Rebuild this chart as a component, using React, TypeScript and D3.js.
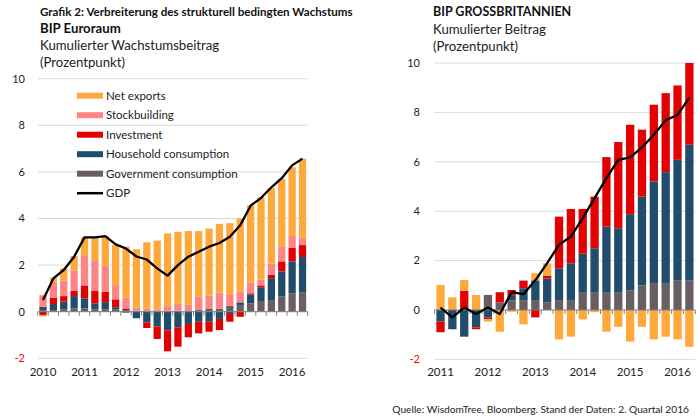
import React from "react";
import * as d3 from "d3";

// ---------- Euro area (BIP Euroraum) ----------
const euQuarters = [
  "2010Q1", "2010Q2", "2010Q3", "2010Q4",
  "2011Q1", "2011Q2", "2011Q3", "2011Q4",
  "2012Q1", "2012Q2", "2012Q3", "2012Q4",
  "2013Q1", "2013Q2", "2013Q3", "2013Q4",
  "2014Q1", "2014Q2", "2014Q3", "2014Q4",
  "2015Q1", "2015Q2", "2015Q3", "2015Q4",
  "2016Q1", "2016Q2",
];
const euGov = [0.07, 0.07, 0.1, 0.14, 0.14, 0.1, 0.1, 0.1, 0.07, 0.05, 0, 0, 0, 0.02, 0.03, 0.07, 0.14, 0.12, 0.25, 0.29, 0.36, 0.46, 0.5, 0.65, 0.79, 0.82];
const euHousehold = [0.14, 0.26, 0.33, 0.53, 0.43, 0.26, 0.31, 0.09, -0.04, -0.28, -0.46, -0.63, -0.8, -0.67, -0.53, -0.43, -0.43, -0.31, -0.1, 0.11, 0.38, 0.59, 0.94, 1.08, 1.37, 1.53];
const euInvestment = [-0.14, 0.27, 0.24, 0.22, 0.56, 0.53, 0.45, 0.34, 0.07, 0, -0.24, -0.54, -0.9, -0.83, -0.57, -0.5, -0.43, -0.48, -0.33, -0.22, 0.05, 0.08, 0.15, 0.43, 0.58, 0.51];
const euStock = [0.5, 0.69, 0.66, 0.87, 1.26, 1.32, 1.11, 0.61, 0.47, 0.13, 0.14, 0.1, 0.24, 0.34, 0.26, 0.57, 0.55, 0.7, 0.47, 0.47, 0.47, 0.24, 0.47, 0.62, 0.51, 0.31];
const euNetExports = [-0.06, 0.17, 0.53, 0.63, 0.8, 0.98, 1.27, 1.72, 2.18, 2.5, 2.84, 2.95, 3.12, 3.07, 3.17, 2.82, 2.88, 2.95, 3.08, 3.13, 3.31, 3.53, 3.24, 2.92, 2.95, 3.4];
const euGdp = [0.5, 1.43, 1.79, 2.36, 3.19, 3.19, 3.24, 2.89, 2.71, 2.37, 2.24, 1.86, 1.55, 2.0, 2.36, 2.57, 2.79, 2.95, 3.22, 3.71, 4.55, 4.88, 5.34, 5.73, 6.28, 6.57];
const euYears = ["2010", "2011", "2012", "2013", "2014", "2015", "2016"];

// ---------- United Kingdom (BIP Grossbritannien) ----------
const ukQuarters = [
  "2011Q1", "2011Q2", "2011Q3", "2011Q4",
  "2012Q1", "2012Q2", "2012Q3", "2012Q4",
  "2013Q1", "2013Q2", "2013Q3", "2013Q4",
  "2014Q1", "2014Q2", "2014Q3", "2014Q4",
  "2015Q1", "2015Q2", "2015Q3", "2015Q4",
  "2016Q1", "2016Q2",
];
const ukGov = [0, 0, 0, 0, 0.61, 0.3, 0.38, 0.4, 0.4, 0.3, 0.4, 0.4, 0.7, 0.7, 0.7, 0.7, 0.8, 0.99, 1.09, 1.09, 1.19, 1.19];
const ukHousehold = [-0.47, -0.78, -1.08, -0.7, -0.3, 0, 0.22, 0.48, 0.8, 0.98, 1.29, 1.49, 1.58, 1.8, 2.68, 2.61, 3.08, 3.6, 4.11, 4.49, 4.89, 5.5];
const ukInvestment = [-0.43, 0, 0.78, -0.08, -0.08, 0.42, 0.21, 0.31, -0.3, 0.11, 2.09, 2.2, 1.81, 2.09, 2.81, 3.49, 3.62, 2.71, 3.11, 3.2, 3.01, 3.31];
const ukStock = [0, 0, 0, 0, 0, 0, 0, 0, 0, 0, 0, 0, 0, 0, 0, 0, 0, 0, 0, 0, 0, 0];
const ukNetExports = [1.01, 0.51, 0.44, 0.61, -0.09, -0.88, -0.07, -0.58, 0.29, 0.5, -1.19, -1.08, -0.38, -0.09, -0.88, -0.68, -1.28, -0.68, -1.19, -1.08, -1.19, -1.49];
const ukGdp = [0.1, -0.3, 0.1, -0.16, 0.1, -0.16, 0.72, 0.64, 1.2, 1.9, 2.64, 2.97, 3.72, 4.53, 5.34, 6.08, 6.18, 6.58, 7.09, 7.68, 7.9, 8.6];
const ukYears = ["2011", "2012", "2013", "2014", "2015", "2016"];

const yTicks = [-2, 0, 2, 4, 6, 8, 10];

const seriesKeys = ["gov", "hh", "inv", "stock", "nx"];
const seriesLabels: Record<string, string> = {
  nx: "Net exports",
  stock: "Stockbuilding",
  inv: "Investment",
  hh: "Household consumption",
  gov: "Government consumption",
};
const colors: Record<string, string> = {
  nx: "#FFA83C",
  stock: "#FF8585",
  inv: "#E30000",
  hh: "#1F4D6B",
  gov: "#695F63",
};

const FONT = "Lato, 'Open Sans', sans-serif";
const TXT = "#222";

type PanelProps = {
  quarters: string[];
  gov: number[];
  hh: number[];
  inv: number[];
  stock: number[];
  nx: number[];
  gdp: number[];
  years: string[];
  x0: number;
  x1: number;
  yTopPx: number;
  yBottomPx: number;
  labelX: number;
};

function Panel(p: PanelProps) {
  const rows = p.quarters.map((q, i) => ({
    q,
    gov: p.gov[i],
    hh: p.hh[i],
    inv: p.inv[i],
    stock: p.stock[i],
    nx: p.nx[i],
  }));
  const x = d3
    .scaleBand<string>()
    .domain(p.quarters)
    .range([p.x0, p.x1])
    .paddingInner(0.3)
    .paddingOuter(0.15);
  const y = d3.scaleLinear().domain([-2, 10]).range([p.yBottomPx, p.yTopPx]);
  const stack = d3
    .stack<any>()
    .keys(seriesKeys)
    .offset(d3.stackOffsetDiverging);
  const layers = stack(rows);
  const step = x.step();
  const line = d3
    .line<number>()
    .x((_, i) => (x(p.quarters[i]) as number) + x.bandwidth() / 2)
    .y((d) => y(d));

  return (
    <g>
      {yTicks
        .filter((t) => t !== 0)
        .map((t) => (
          <line key={"g" + t} x1={p.x0} x2={p.x1} y1={y(t)} y2={y(t)} stroke="#D9D9D9" strokeWidth={1} />
        ))}
      {yTicks.map((t) => (
        <text
          key={"t" + t}
          x={p.labelX}
          y={y(t)}
          dy="0.35em"
          textAnchor="end"
          fontFamily={FONT}
          fontSize={11}
          fill={t < 0 ? "#FF0000" : TXT}
        >
          {t}
        </text>
      ))}
      {layers.map((layer) => (
        <g key={layer.key} fill={colors[layer.key]}>
          {layer.map((d, i) => {
            const top = Math.max(d[0], d[1]);
            const bot = Math.min(d[0], d[1]);
            const h = y(bot) - y(top);
            if (h <= 0) return null;
            return (
              <rect
                key={i}
                x={x(p.quarters[i])}
                y={y(top)}
                width={x.bandwidth()}
                height={h}
              />
            );
          })}
        </g>
      ))}
      <line x1={p.x0} x2={p.x1} y1={y(0)} y2={y(0)} stroke="#7F7F7F" strokeWidth={1} />
      {d3.range(p.quarters.length + 1).map((i) => (
        <line
          key={"tk" + i}
          x1={p.x0 + i * step}
          x2={p.x0 + i * step}
          y1={y(0)}
          y2={y(0) + 4}
          stroke="#7F7F7F"
          strokeWidth={1}
        />
      ))}
      <path d={line(p.gdp) || ""} fill="none" stroke="#000" strokeWidth={2.3} strokeLinejoin="round" />
      {p.years.map((yr) => (
        <text
          key={yr}
          x={(x(yr + "Q1") as number) + x.bandwidth() / 2}
          y={376}
          textAnchor="middle"
          fontFamily={FONT}
          fontSize={11.5}
          fill={TXT}
        >
          {yr}
        </text>
      ))}
    </g>
  );
}

function Legend({ x, y }: { x: number; y: number }) {
  const order = ["nx", "stock", "inv", "hh", "gov"];
  const gap = 19.5;
  return (
    <g>
      {order.map((k, i) => (
        <g key={k} transform={`translate(${x},${y + i * gap})`}>
          <rect x={0} y={-3} width={26} height={6} fill={colors[k]} />
          <text x={29} y={0} dy="0.35em" fontFamily={FONT} fontSize={11.5} fill={TXT}>
            {seriesLabels[k]}
          </text>
        </g>
      ))}
      <g transform={`translate(${x},${y + order.length * gap})`}>
        <line x1={0} x2={26} y1={0} y2={0} stroke="#000" strokeWidth={2.5} />
        <text x={29} y={0} dy="0.35em" fontFamily={FONT} fontSize={11.5} fill={TXT}>
          GDP
        </text>
      </g>
    </g>
  );
}

export default function App() {
  return (
    <div style={{ position: "absolute", left: 0, top: 0, width: 700, height: 418, background: "#fff" }}>
      <svg width={700} height={418} viewBox="0 0 700 418">
        <rect width={700} height={418} fill="#fff" />
        <text x={40} y={16} fontFamily={FONT} fontWeight="bold" fontSize={11.6} fill="#111">
          Grafik 2: Verbreiterung des strukturell bedingten Wachstums
        </text>
        <text x={40} y={33} fontFamily={FONT} fontWeight="bold" fontSize={13.2} fill="#111">
          BIP Euroraum
        </text>
        <text x={40} y={50} fontFamily={FONT} fontSize={13.2} fill={TXT}>
          Kumulierter Wachstumsbeitrag
        </text>
        <text x={40} y={67} fontFamily={FONT} fontSize={13.2} fill={TXT}>
          (Prozentpunkt)
        </text>

        <text x={433} y={16} fontFamily={FONT} fontWeight="bold" fontSize={12.5} fill="#111">
          BIP GROSSBRITANNIEN
        </text>
        <text x={433} y={34} fontFamily={FONT} fontSize={13.2} fill={TXT}>
          Kumulierter Beitrag
        </text>
        <text x={433} y={51} fontFamily={FONT} fontSize={13.2} fill={TXT}>
          (Prozentpunkt)
        </text>

        <Panel
          quarters={euQuarters}
          gov={euGov}
          hh={euHousehold}
          inv={euInvestment}
          stock={euStock}
          nx={euNetExports}
          gdp={euGdp}
          years={euYears}
          x0={37.8}
          x1={307.7}
          yTopPx={78.7}
          yBottomPx={358.3}
          labelX={25}
        />
        <Panel
          quarters={ukQuarters}
          gov={ukGov}
          hh={ukHousehold}
          inv={ukInvestment}
          stock={ukStock}
          nx={ukNetExports}
          gdp={ukGdp}
          years={ukYears}
          x0={434.6}
          x1={695.3}
          yTopPx={63}
          yBottomPx={359.4}
          labelX={420}
        />
        <Legend x={77} y={95.7} />
        <text x={689} y={413} textAnchor="end" fontFamily={FONT} fontSize={10.2} fill={TXT}>
          Quelle: WisdomTree, Bloomberg. Stand der Daten: 2. Quartal 2016
        </text>
      </svg>
    </div>
  );
}
